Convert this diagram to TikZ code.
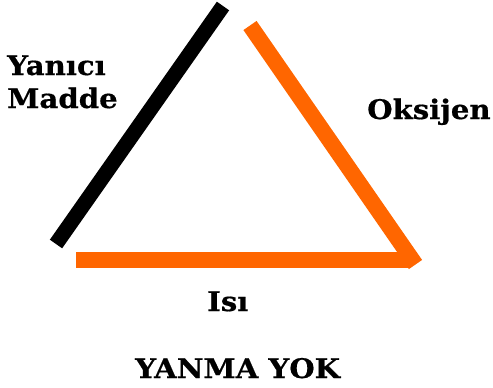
\documentclass[tikz,border=0pt]{standalone}
\usepackage{fontspec}
\setmainfont{DejaVu Serif}
\newfontfamily\lblfont{DejaVu Serif}[FakeStretch=1.08, FakeBold=0.6]
\definecolor{fireorange}{HTML}{FF6600}
\tikzset{
  side/.style={line width=15pt, line cap=butt},
  lbl/.style={inner sep=0pt, anchor=base west, font=\lblfont\bfseries\fontsize{27}{30}\selectfont}
}
\begin{document}
\begin{tikzpicture}[x=1pt,y=-1pt]
\useasboundingbox (0,0) rectangle (493,388);
\coordinate (btop) at (223,6);
\coordinate (bbot) at (56,244);
\coordinate (otop) at (250,25.5);
\coordinate (ocorner) at (415.5,264.5);
\coordinate (hright) at (408,260);
\coordinate (hleft) at (76,260);
\draw[side, black] (btop) -- (bbot);
\draw[side, fireorange, line width=16pt] (otop) -- (ocorner);
\draw[side, fireorange, line width=16pt] (hleft) -- (hright);
\node[lbl] (yan) at (7,75) {Yanıcı};
\node[lbl] (mad) at (7,108) {Madde};
\node[lbl] (oks) at (367,119) {Oksijen};
\node[lbl] (isi) at (207,311) {Isı};
\node[lbl] (yok) at (135,378) {YANMA YOK};
\end{tikzpicture}
\end{document}
